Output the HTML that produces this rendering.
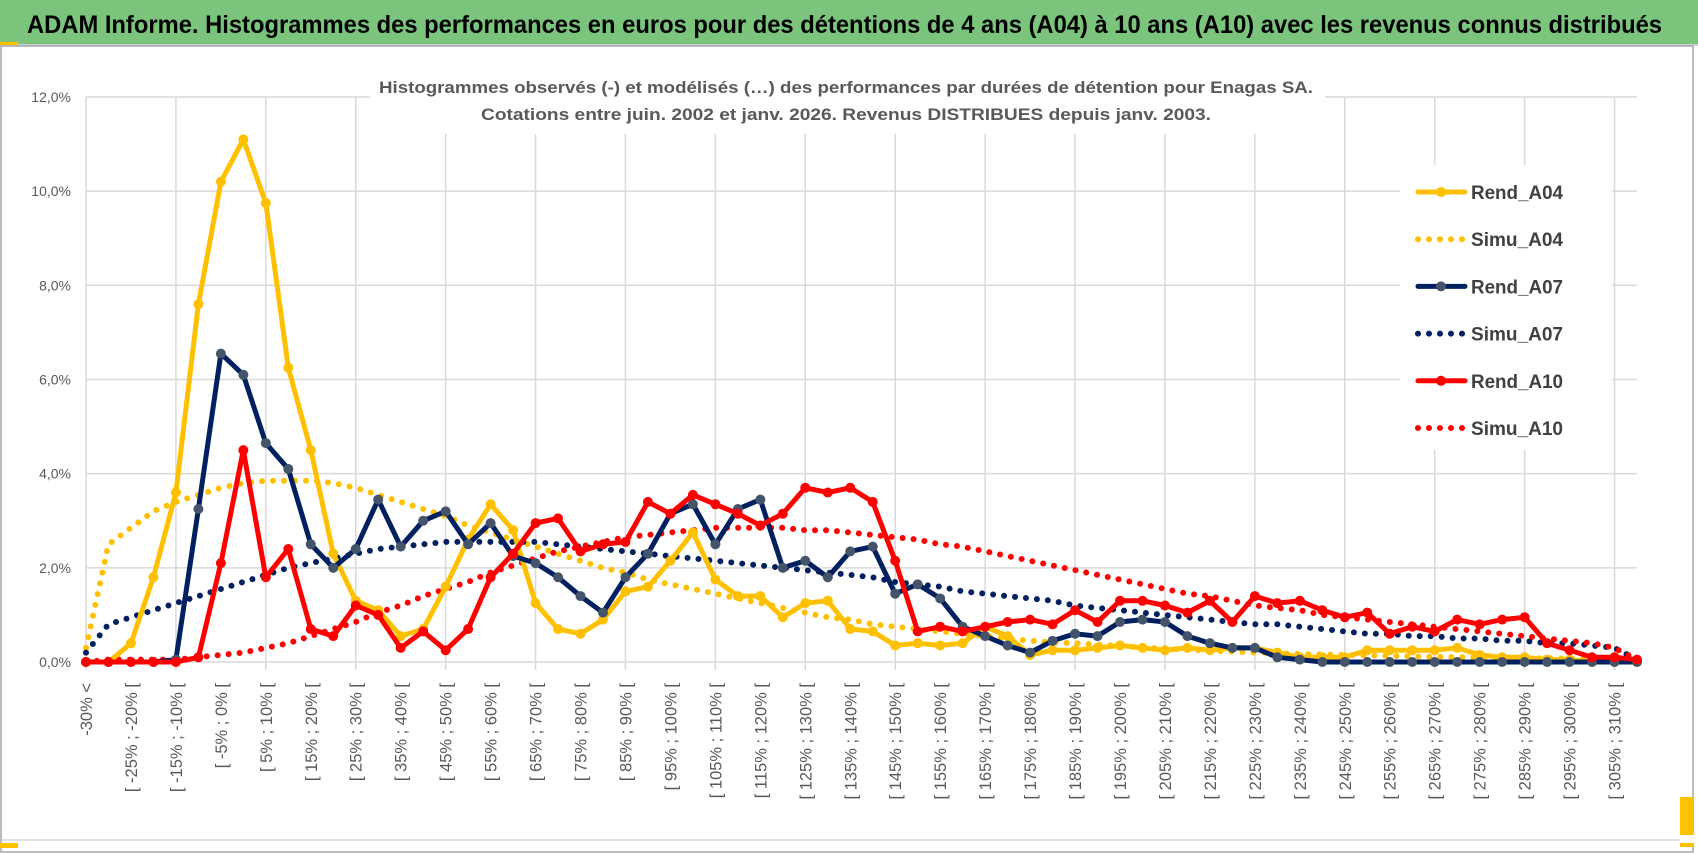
<!DOCTYPE html>
<html><head><meta charset="utf-8"><style>
html,body{margin:0;padding:0;background:#fff;}
svg{display:block;font-family:"Liberation Sans",sans-serif;}
</style></head><body>
<svg id="chart" width="1698" height="854" viewBox="0 0 1698 854" xmlns="http://www.w3.org/2000/svg">
<rect x="0" y="0" width="1698" height="854" fill="#fff"/>
<rect x="0" y="0" width="1698" height="44" fill="#7ac47b"/>
<line x1="0" y1="45" x2="1698" y2="45" stroke="#d0d0d0" stroke-width="2"/>
<rect x="0" y="42" width="18" height="3" fill="#ffc000"/>
<text x="27" y="33" font-size="25" font-weight="bold" fill="#000" textLength="1635" lengthAdjust="spacingAndGlyphs">ADAM Informe. Histogrammes des performances en euros pour des détentions de 4 ans (A04) à 10 ans (A10) avec les revenus connus distribués</text>
<rect x="1" y="46" width="1692" height="806" fill="none" stroke="#a6a6a6" stroke-width="1.5"/>
<line x1="2" y1="840" x2="1692" y2="840" stroke="#d9d9d9" stroke-width="1.5"/>
<rect x="0" y="843" width="18" height="5" fill="#ffc000"/>
<rect x="1680" y="797" width="14" height="50" fill="#ffc000"/>
<rect x="1680" y="835" width="14" height="8" fill="#fff"/>
<g id="grid"></g>
<g id="yaxis"></g>
<g id="xaxis"></g>
<g id="series"></g>
<rect x="370" y="68" width="955" height="66" fill="#fff"/>
<text x="846" y="93" text-anchor="middle" font-size="17" font-weight="bold" fill="#595959" textLength="934" lengthAdjust="spacingAndGlyphs">Histogrammes observés (-) et modélisés (…) des performances par durées de détention pour Enagas SA.</text>
<text x="846" y="120" text-anchor="middle" font-size="17" font-weight="bold" fill="#595959" textLength="730" lengthAdjust="spacingAndGlyphs">Cotations entre juin. 2002 et janv. 2026. Revenus DISTRIBUES depuis janv. 2003.</text>
<g id="legend"></g>
</svg>
<script>
const categories = (function(){ return null; })();
const lowerBounds = [-30,-25,-20,-15,-10,-5,0,5,10,15,20,25,30,35,40,45,50,55,60,65,70,75,80,85,90,95,100,105,110,115,120,125,130,135,140,145,150,155,160,165,170,175,180,185,190,195,200,205,210,215,220,225,230,235,240,245,250,255,260,265,270,275,280,285,290,295,300,305,310];
const yTicks = [0,2,4,6,8,10,12];
const yTickLabels = ["0,0%","2,0%","4,0%","6,0%","8,0%","10,0%","12,0%"];
const rendA04 = [0,0,0.4,1.8,3.6,7.6,10.2,11.1,9.75,6.25,4.5,2.3,1.3,1.1,0.55,0.7,1.6,2.6,3.35,2.8,1.25,0.7,0.6,0.9,1.5,1.6,2.15,2.75,1.75,1.4,1.4,0.95,1.25,1.3,0.7,0.65,0.35,0.4,0.35,0.4,0.75,0.55,0.15,0.25,0.25,0.3,0.35,0.3,0.25,0.3,0.25,0.3,0.3,0.2,0.1,0.1,0.1,0.25,0.25,0.25,0.25,0.3,0.15,0.1,0.1,0.05,0.05,0,0,0];
const simuA04 = [0.3,2.5,2.85,3.2,3.4,3.55,3.7,3.8,3.85,3.85,3.85,3.8,3.7,3.55,3.4,3.25,3.1,2.9,2.75,2.6,2.45,2.3,2.15,2.0,1.9,1.75,1.65,1.55,1.45,1.35,1.25,1.15,1.05,0.95,0.9,0.8,0.75,0.7,0.65,0.6,0.55,0.5,0.45,0.42,0.4,0.37,0.34,0.31,0.28,0.26,0.24,0.22,0.2,0.19,0.17,0.16,0.15,0.14,0.13,0.12,0.11,0.1,0.1,0.09,0.08,0.08,0.07,0.06,0.05,0.0];
const rendA07 = [0,0,0,0,0.05,3.25,6.55,6.1,4.65,4.1,2.5,2.0,2.4,3.45,2.45,3.0,3.2,2.5,2.95,2.25,2.1,1.8,1.4,1.05,1.8,2.3,3.15,3.35,2.5,3.25,3.45,2.0,2.15,1.8,2.35,2.45,1.45,1.65,1.35,0.75,0.55,0.35,0.2,0.45,0.6,0.55,0.85,0.9,0.85,0.55,0.4,0.3,0.3,0.1,0.05,0,0,0,0,0,0,0,0,0,0,0,0,0,0,0];
const simuA07 = [0.2,0.8,0.95,1.1,1.25,1.4,1.55,1.7,1.85,2.0,2.1,2.2,2.3,2.4,2.45,2.5,2.55,2.55,2.55,2.55,2.55,2.5,2.45,2.4,2.35,2.3,2.25,2.2,2.15,2.1,2.05,2.0,1.95,1.9,1.85,1.8,1.7,1.65,1.6,1.5,1.45,1.4,1.35,1.3,1.2,1.15,1.1,1.05,1.0,0.95,0.9,0.85,0.8,0.8,0.75,0.7,0.65,0.6,0.6,0.55,0.55,0.5,0.5,0.45,0.45,0.4,0.4,0.35,0.3,0.05];
const rendA10 = [0,0,0,0,0,0.1,2.1,4.5,1.8,2.4,0.7,0.55,1.2,1.0,0.3,0.65,0.25,0.7,1.8,2.3,2.95,3.05,2.35,2.5,2.55,3.4,3.15,3.55,3.35,3.15,2.9,3.15,3.7,3.6,3.7,3.4,2.15,0.65,0.75,0.65,0.75,0.85,0.9,0.8,1.1,0.85,1.3,1.3,1.2,1.05,1.3,0.85,1.4,1.25,1.3,1.1,0.95,1.05,0.6,0.75,0.65,0.9,0.8,0.9,0.95,0.4,0.25,0.1,0.1,0.05];
const simuA10 = [0,0.05,0.05,0.05,0.05,0.1,0.15,0.2,0.3,0.4,0.55,0.7,0.85,1.05,1.2,1.4,1.55,1.7,1.9,2.05,2.2,2.35,2.45,2.55,2.65,2.7,2.75,2.8,2.85,2.85,2.85,2.85,2.8,2.8,2.75,2.7,2.65,2.6,2.5,2.45,2.35,2.25,2.15,2.05,1.95,1.85,1.75,1.65,1.55,1.45,1.4,1.3,1.2,1.15,1.1,1.0,0.95,0.9,0.85,0.8,0.75,0.7,0.65,0.6,0.55,0.5,0.45,0.4,0.3,0.05];

const cats = ["-30% <"];
for (let k = 0; k < lowerBounds.length; k++) cats.push("[ " + lowerBounds[k] + "% ; " + (lowerBounds[k] + 5) + "% [");

const NS = "http://www.w3.org/2000/svg";
const X0 = 86, X1 = 1637, Y0 = 662, Y12 = 97;
const xPos = i => X0 + (X1 - X0) * i / (cats.length - 1);
const yPos = v => Y0 - (Y0 - Y12) * v / 12;
function mk(tag, attrs, parent){ const e = document.createElementNS(NS, tag); for (const k in attrs) e.setAttribute(k, attrs[k]); parent.appendChild(e); return e; }

const grid = document.getElementById('grid');
yTicks.forEach((t, i) => {
  const l = mk('line', {x1: X0, x2: X1, y1: yPos(t), y2: yPos(t), stroke: '#d9d9d9', 'stroke-width': 1.5}, grid);
  
  
});
for (let i = 0; i < cats.length; i += 4) {
  const l = mk('line', {x1: xPos(i), x2: xPos(i), y1: Y12, y2: Y0 + 8, stroke: '#d9d9d9', 'stroke-width': 1.5}, grid);
  
  
}
const yaxis = document.getElementById('yaxis');
yTicks.forEach((t, i) => {
  const tx = mk('text', {x: 71, y: yPos(t) + 5, 'text-anchor': 'end', 'font-size': 14, fill: '#595959'}, yaxis);
  tx.textContent = yTickLabels[i];
  
  
});
const xaxis = document.getElementById('xaxis');
for (let i = 0; i < cats.length; i += 2) {
  const x = xPos(i) + 6;
  const tx = mk('text', {x: x, y: 683, transform: 'rotate(-90 ' + x + ' 683)', 'text-anchor': 'end', 'font-size': 16.5, fill: '#595959'}, xaxis);
  tx.textContent = cats[i];
  
  
}
const series = document.getElementById('series');
function pts(arr){ return arr.map((v, i) => xPos(i).toFixed(1) + ',' + yPos(v).toFixed(1)).join(' '); }
function dotted(arr, color, name){
  const p = mk('polyline', {points: pts(arr), fill: 'none', stroke: color, 'stroke-width': 6, 'stroke-linecap': 'round', 'stroke-dasharray': '0 11'}, series);
  
  
}
function solid(arr, color, mcolor, name){
  const g = mk('g', {}, series);
  
  
  mk('polyline', {points: pts(arr), fill: 'none', stroke: color, 'stroke-width': 5, 'stroke-linejoin': 'round'}, g);
  arr.forEach((v, i) => {
    const c = mk('circle', {cx: xPos(i), cy: yPos(v), r: 5, fill: mcolor}, g);
    
    
  });
}
dotted(simuA04, '#ffc000', 'simu-a04-line');
dotted(simuA07, '#002060', 'simu-a07-line');
dotted(simuA10, '#ff0000', 'simu-a10-line');
solid(rendA04, '#ffc000', '#ffc000', 'rend-a04-line');
solid(rendA07, '#002060', '#44546a', 'rend-a07-line');
solid(rendA10, '#ff0000', '#ff0000', 'rend-a10-line');

const legend = document.getElementById('legend');
mk('rect', {x: 1400, y: 165, width: 212, height: 285, fill: '#fff'}, legend);
const legNames = ["Rend_A04","Simu_A04","Rend_A07","Simu_A07","Rend_A10","Simu_A10"];
const legColors = ['#ffc000','#ffc000','#002060','#002060','#ff0000','#ff0000'];
const legMarkers = ['#ffc000','#ffc000','#44546a','#44546a','#ff0000','#ff0000'];
legNames.forEach((n, i) => {
  const y = 192 + i * 47.2;
  const g = mk('g', {}, legend);
  
  
  if (i % 2 === 0) {
    mk('line', {x1: 1418, x2: 1465, y1: y, y2: y, stroke: legColors[i], 'stroke-width': 5, 'stroke-linecap': 'round'}, g);
    mk('circle', {cx: 1441, cy: y, r: 5, fill: legMarkers[i]}, g);
  } else {
    mk('line', {x1: 1418, x2: 1465, y1: y, y2: y, stroke: legColors[i], 'stroke-width': 6, 'stroke-linecap': 'round', 'stroke-dasharray': '0 11'}, g);
  }
  const t = mk('text', {x: 1471, y: y + 7, 'font-size': 19, 'font-weight': 'bold', fill: '#404040', textLength: 92, lengthAdjust: 'spacingAndGlyphs'}, g);
  t.textContent = n;
});
</script>
</body></html>
